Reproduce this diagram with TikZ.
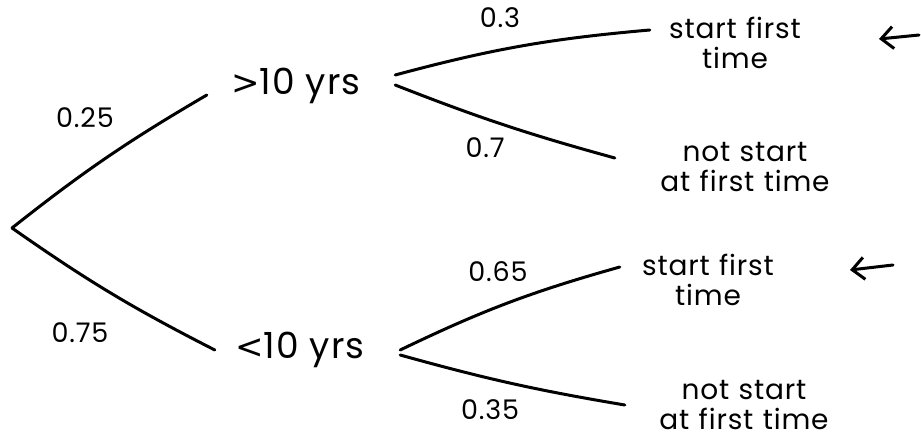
\documentclass[tikz,border=0pt]{standalone}
\usepackage{fontspec}
\setmainfont{Poppins}[LetterSpace=3]
\newfontfamily\symfont{DejaVu Sans}
\usetikzlibrary{calc,arrows.meta}
\newcommand{\bigsym}[1]{{\symfont\fontsize{34}{30}\selectfont #1}}
\begin{document}
\begin{tikzpicture}[x=1pt,y=-1pt,
  branch/.style={line width=3pt,line cap=round},
  prob/.style={font=\fontsize{27}{28}\selectfont, inner sep=0pt},
  state/.style={font=\fontsize{36}{38}\selectfont, minimum width=200pt, inner sep=0pt},
  outcome/.style={font=\fontsize{28}{30}\selectfont, text width=220pt, align=center, inner sep=0pt},
  pointer/.style={line width=3pt,line cap=round,-{Straight Barb[length=12pt,width=22pt,line width=3pt]}}]
\useasboundingbox (0,0) rectangle (921,441);
\coordinate (root) at (12,228);
\node[state] (gt) at (296,86) {\bigsym{>}10 yrs};
\node[state] (lt) at (300,350) {\bigsym{<}10 yrs};
\node[outcome] (s1) at (735,43) {start first\\time};
\node[outcome] (n1) at (745,167) {not start\\at first time};
\node[outcome] (s2) at (708,280) {start first\\time};
\node[outcome] (n2) at (744,405) {not start\\at first time};
\node[prob] (p25) at (85,118) {0.25};
\node[prob] (p75) at (80,333) {0.75};
\node[prob] (p3) at (500,18) {0.3};
\node[prob] (p7) at (485,148) {0.7};
\node[prob] (p65) at (498,272) {0.65};
\node[prob] (p35) at (490,410) {0.35};
\coordinate (a1s) at (919,35);
\coordinate (a1e) at (879,39);
\coordinate (a2s) at (893,265);
\coordinate (a2e) at (850,270);
\draw[branch] (root) to[bend left=4] ($(gt.west)+(11,9)$);
\draw[branch] (root) to[bend right=4] ($(lt.west)+(15,0)$);
\draw[branch] ($(gt.east)+(-1,-11)$) to[bend left=5] ($(s1.west)+(25,-13)$);
\draw[branch] ($(gt.east)+(-1,-1)$) to[bend right=3] ($(n1.west)+(-20,-9)$);
\draw[branch] ($(lt.east)+(0,0)$) to[bend left=5] ($(s2.west)+(22,-13)$);
\draw[branch] ($(lt.east)+(0,5)$) to[bend right=3] ($(n2.west)+(-9,0)$);
\draw[pointer] (a1s) -- (a1e);
\draw[pointer] (a2s) -- (a2e);
\end{tikzpicture}
\end{document}
